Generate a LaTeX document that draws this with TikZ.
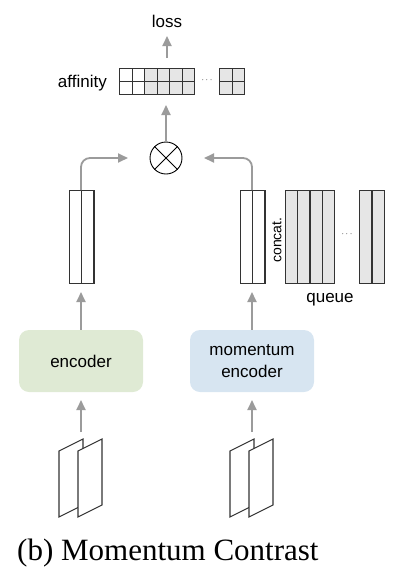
\documentclass[tikz,border=0pt]{standalone}
\usepackage{fontspec}
\setmainfont{Liberation Sans}
\newfontfamily\capfont{Liberation Serif}
\usetikzlibrary{arrows.meta}
\definecolor{arrgray}{HTML}{9B9B9B}
\definecolor{cellgray}{HTML}{E6E6E6}
\definecolor{encgreen}{HTML}{DFEAD4}
\definecolor{encblue}{HTML}{D7E5F1}
\definecolor{edgegray}{HTML}{333333}
\tikzset{
  lbl/.style={font=\fontsize{17}{20}\selectfont, inner sep=0pt},
  arr/.style={draw=arrgray, line width=1.8pt, -{Triangle[length=10pt,width=9pt]}, rounded corners=9pt},
  cellbox/.style={draw=edgegray, line width=1.2pt, inner sep=0pt, minimum width=12.5pt, minimum height=12.8pt},
  colbox/.style={draw=edgegray, line width=1.2pt, inner sep=0pt, minimum width=12.4pt, minimum height=93pt},
  encbox/.style={rounded corners=10pt, inner sep=0pt, minimum width=124pt, minimum height=62pt, align=center, font=\fontsize{17}{22}\selectfont},
  imgbox/.style={draw=edgegray, line width=1.1pt, fill=white},
}
\begin{document}
\begin{tikzpicture}[x=1pt,y=-1pt]
\useasboundingbox (0,0) rectangle (418,576);

% top labels
\node[lbl] (loss) at (167,21) {loss};
\node[lbl, anchor=east] (aff) at (107,83) {affinity};

% affinity grid
\foreach \i in {0,...,5}{
  \foreach \j in {0,1}{
    \ifnum\i<2
      \node[cellbox, fill=white, anchor=north west] (g\i\j) at (119+\i*12.5, 68+\j*13) {};
    \else
      \node[cellbox, fill=cellgray, anchor=north west] (g\i\j) at (119+\i*12.5, 68+\j*13) {};
    \fi
  }
}
\node[font=\fontsize{9}{9}\selectfont, inner sep=0pt] (gdots) at (207,80) {$\cdots$};
\foreach \i in {0,1}{
  \foreach \j in {0,1}{
    \node[cellbox, fill=cellgray, anchor=north west] (h\i\j) at (219+\i*12.5, 68+\j*13) {};
  }
}

% multiplication
\node[draw=black, line width=0.9pt, circle, minimum size=32pt, inner sep=0pt] (mul) at (166,158) {};
\draw[line width=0.9pt] (mul.north west) -- (mul.south east) (mul.north east) -- (mul.south west);
\coordinate (afftip) at (166,105);
\coordinate (lossbase) at (167,58);
\coordinate (losstip) at (167,36);

% columns
\node[colbox, fill=white, anchor=north west] (q1) at (68.5,190) {};
\node[colbox, fill=white, anchor=north west] (q2) at (80.9,190) {};
\node[colbox, fill=white, anchor=north west] (k1) at (239.5,190) {};
\node[colbox, fill=white, anchor=north west] (k2) at (251.9,190) {};
\coordinate (qmid) at (81,190);
\coordinate (kmid) at (252,190);
\coordinate (qbend) at (81,158);
\coordinate (kbend) at (252,158);
\coordinate (qtip) at (128,158);
\coordinate (ktip) at (204,158);
\coordinate (qbot) at (81,292);
\coordinate (kbot) at (252,292);

% queue
\foreach \i in {0,...,3}{
  \node[colbox, fill=cellgray, anchor=north west] (u\i) at (284.5+\i*12.4,190) {};
}
\node[font=\fontsize{9}{9}\selectfont, inner sep=0pt] (qdots) at (347,234) {$\cdots$};
\node[colbox, fill=cellgray, anchor=north west] (v0) at (359,190) {};
\node[colbox, fill=cellgray, anchor=north west] (v1) at (371.4,190) {};
\node[lbl, rotate=90, font=\fontsize{14}{16}\selectfont] (concat) at (277,240) {concat.};
\node[lbl] (queue) at (330,300) {queue};

% encoders
\node[encbox, fill=encgreen] (enc) at (81,361) {encoder};
\node[encbox, fill=encblue] (menc) at (252,361) {momentum\\encoder};
\coordinate (enctip) at (81,400);
\coordinate (menctip) at (252,400);

% images
\foreach \ox/\nm in {0/a,171/b}{
  \draw[imgbox] (59+\ox,451) -- (83+\ox,439) -- (83+\ox,505) -- (59+\ox,517) -- cycle;
  \draw[imgbox] (78+\ox,451) -- (102+\ox,439) -- (102+\ox,505) -- (78+\ox,517) -- cycle;
}
\coordinate (imga) at (81,432);
\coordinate (imgb) at (252,432);

% arrows
\draw[arr] (imga) -- (enctip);
\draw[arr] (imgb) -- (menctip);
\draw[arr] (enc.north) -- (qbot);
\draw[arr] (menc.north) -- (kbot);
\draw[arr] (qmid) -- (qbend) -- (qtip);
\draw[arr] (kmid) -- (kbend) -- (ktip);
\draw[arr] (mul.north) -- (afftip);
\draw[arr] (lossbase) -- (losstip);

% caption
\node[font=\capfont\fontsize{31}{34}\selectfont, inner sep=0pt, anchor=west] (cap) at (17,553) {(b) Momentum Contrast};
\end{tikzpicture}
\end{document}
